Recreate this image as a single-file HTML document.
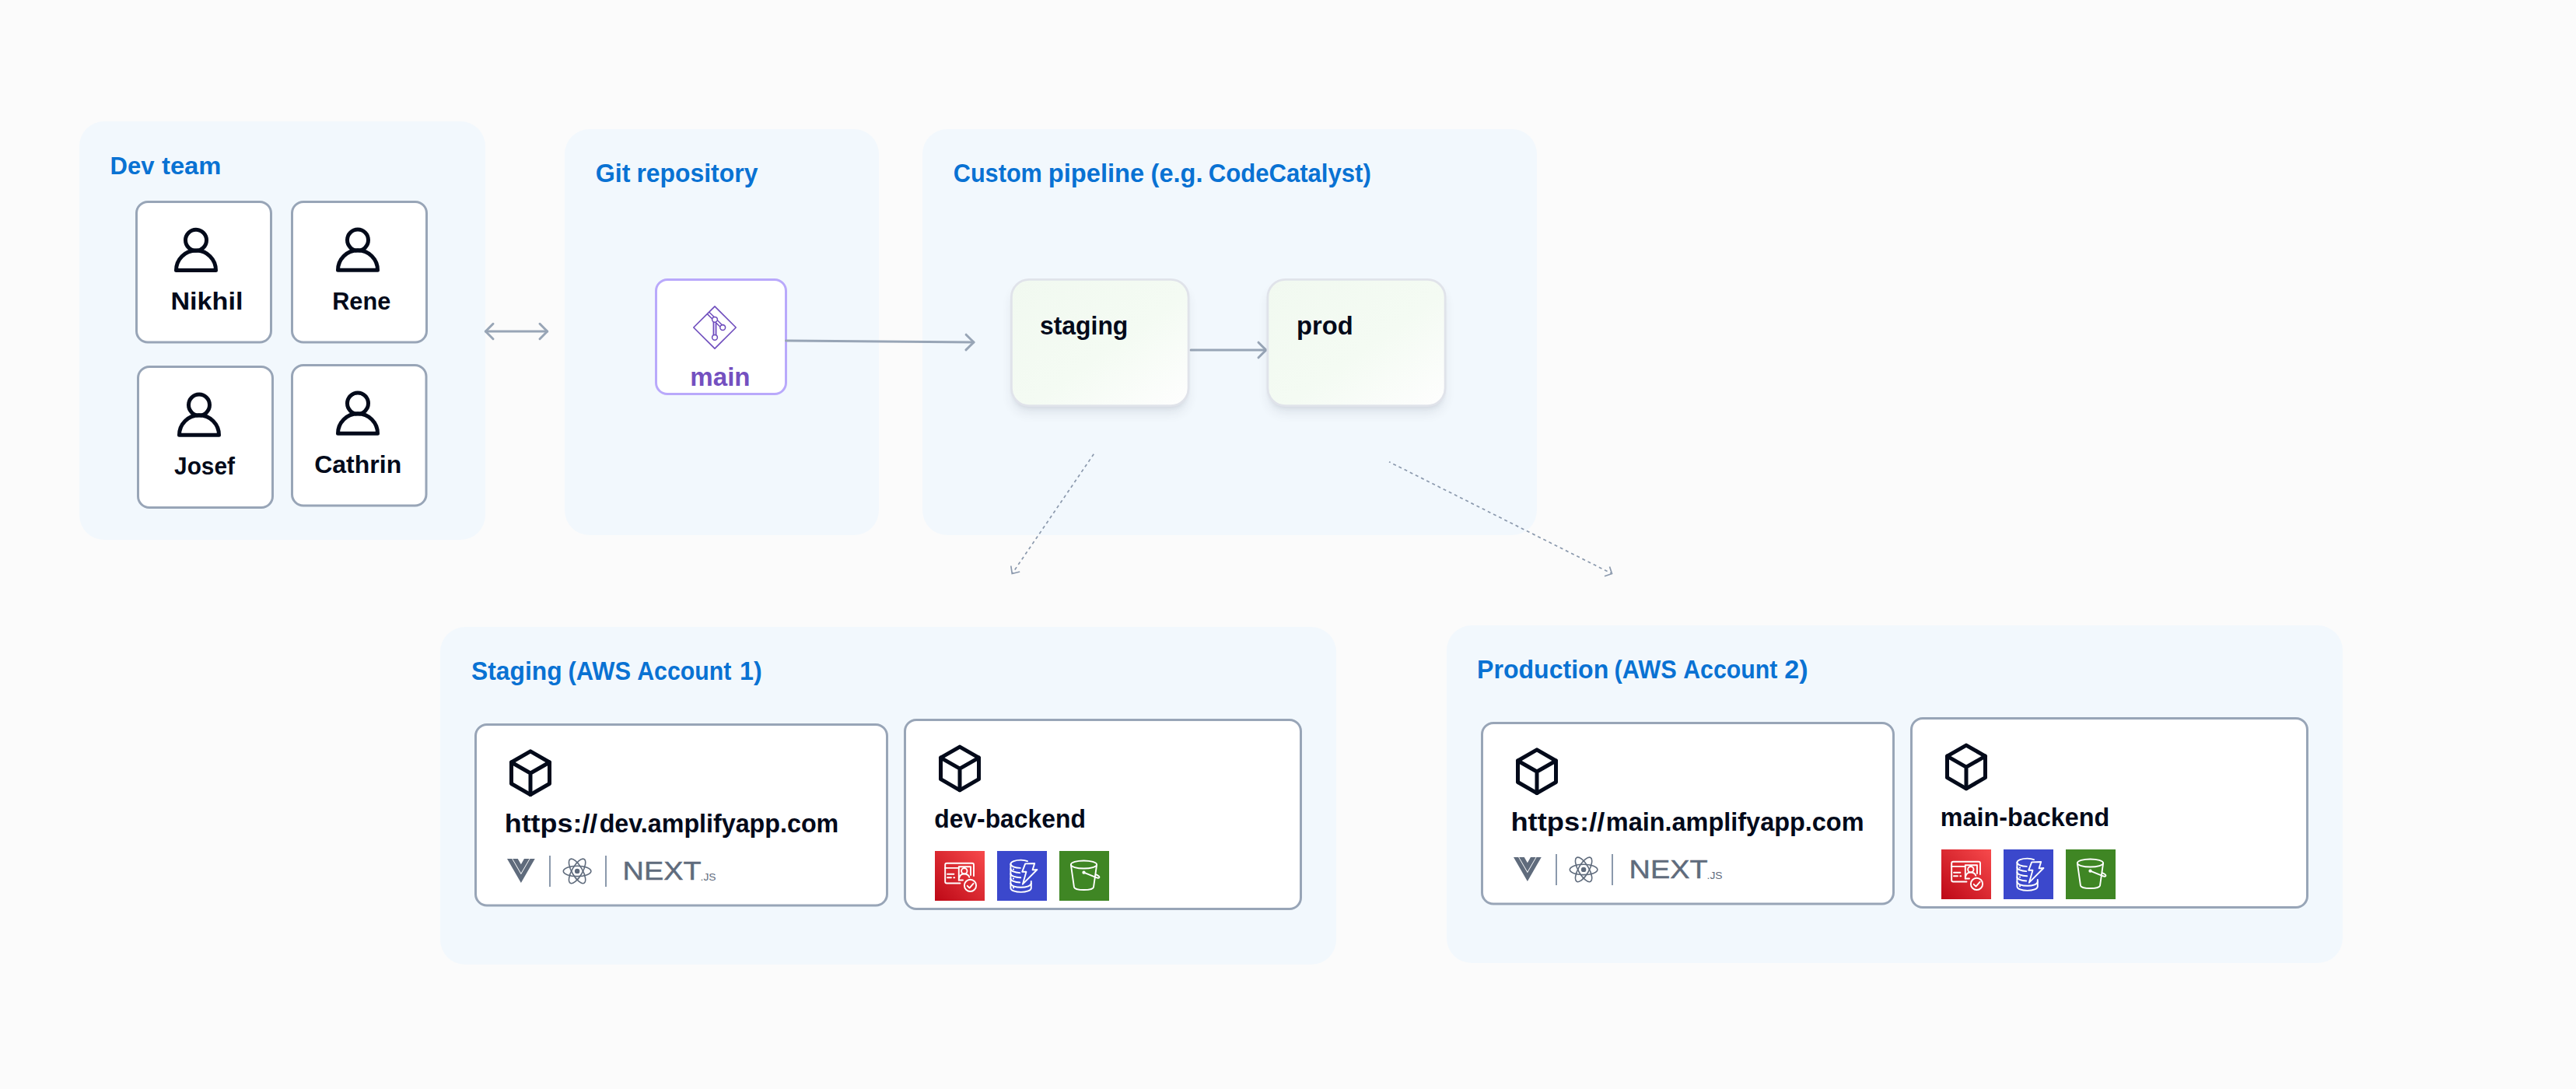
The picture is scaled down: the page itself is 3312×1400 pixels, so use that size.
<!DOCTYPE html>
<html lang="en"><head><meta charset="utf-8"><title>Amplify custom pipeline diagram</title>
<style>html,body{margin:0;padding:0;background:#fbfbfb}body{width:3312px;height:1400px;overflow:hidden}svg{display:block}text{font-family:"Liberation Sans",sans-serif;font-weight:bold}</style></head><body>
<svg width="3312" height="1400" viewBox="0 0 3312 1400">
<defs>
<linearGradient id="gg" x1="0" y1="0" x2="1" y2="1"><stop offset="0" stop-color="#f1f9f0"/><stop offset="0.55" stop-color="#f4fbf3"/><stop offset="1" stop-color="#fefefe"/></linearGradient>
<linearGradient id="rg" x1="0" y1="1" x2="1" y2="0"><stop offset="0" stop-color="#bd0816"/><stop offset="1" stop-color="#f74a4c"/></linearGradient>
<filter id="b1" x="-20%" y="-30%" width="140%" height="160%"><feGaussianBlur stdDeviation="7.5"/></filter><filter id="b2" x="-20%" y="-30%" width="140%" height="160%"><feGaussianBlur stdDeviation="3"/></filter>
<g id="person" fill="none" stroke="#030a1a" stroke-width="5" stroke-linejoin="round"><circle cx="28" cy="16" r="13.5"/><path d="M2.5 54.7A25.5 25.5 0 0 1 53.5 54.7Z"/></g>
<g id="cube" fill="none" stroke="#030a1a" stroke-width="5" stroke-linejoin="round" stroke-linecap="round"><path d="M27 2.9L51.5 17V44.5L27 58.6L2.5 44.5V17Z"/><path d="M2.5 17L27 31L51.5 17M27 31V58.6"/></g>
<g id="fe">
<g transform="translate(0 4) scale(0.13658)" fill="#5f6b7c"><path d="M161.096.001l-30.225 52.351L100.647.001H-.005l130.877 226.688L261.749.001z"/><path d="M161.096.001l-30.225 52.351L100.647.001H52.346l78.526 136.01L209.398.001z" stroke="#fff" stroke-width="13" paint-order="stroke"/></g>
<rect x="54" y="0" width="2" height="40" fill="#8b99ac"/><rect x="126" y="0" width="2" height="40" fill="#8b99ac"/>
<g transform="translate(90.1 19.9)" fill="none" stroke="#5f6b7c" stroke-width="1.6"><ellipse rx="17.8" ry="6.7"/><ellipse rx="17.8" ry="6.7" transform="rotate(60)"/><ellipse rx="17.8" ry="6.7" transform="rotate(120)"/><circle r="3.2" fill="#5f6b7c" stroke="none"/></g>
<text y="31.2" style="font-weight:normal" fill="#5f6b7c"><tspan x="148.6" font-size="33.6" stroke="#5f6b7c" stroke-width="0.45" textLength="101" lengthAdjust="spacingAndGlyphs">NEXT</tspan><tspan x="248.6" y="31.6" font-size="12.6" textLength="20" lengthAdjust="spacingAndGlyphs">.JS</tspan></text>
</g>
<g id="aws">
<rect width="64" height="64" fill="url(#rg)"/>
<g fill="none" stroke="#fff" stroke-width="1.9" stroke-linecap="round" stroke-linejoin="round">
<path d="M32.5 41.5H15.2a2 2 0 0 1-2-2V17.8a2 2 0 0 1 2-2H48a2 2 0 0 1 2 2V32"/><path d="M13.2 21.9H30.5"/><path d="M30.8 37.5V20.2H46V31"/><path d="M30.8 37.5H36"/>
<circle cx="37.8" cy="25.7" r="3.7"/><path d="M31.3 34.5c.8-3.6 3.4-5 6.5-5s5.6 1.4 6.5 4.2"/>
<path d="M16 29.8H24.4M16 34.2H21M24.3 34.2H25.2"/>
<circle cx="45.5" cy="44.4" r="7.6"/><path d="M41.7 44.8l2.8 2.8 5-5.8"/></g>
<g transform="translate(80 0)"><rect width="64" height="64" fill="#3b48cc"/><g fill="none" stroke="#fff" stroke-width="1.9" stroke-linecap="round" stroke-linejoin="round">
<path d="M39 13.2C36.7 12.1 33.8 11.6 30.6 11.6c-7.3 0-13.2 2.3-13.2 5.2V47.7c0 2.9 5.9 5.2 13.2 5.2s13.2-2.3 13.2-5.2V39"/>
<path d="M17.4 16.8c0 2.8 5.6 4.9 12.4 5.1M17.4 23c0 2.7 5.2 4.9 11.8 5.1M17.4 29.2c0 2.7 5.6 4.9 12.8 5.1M17.4 35.4c0 2.7 5.2 4.8 11.8 5.1M17.4 41.6c0 2.9 5.9 5.2 13.2 5.2s13.2-2.3 13.2-5.2"/>
<path d="M36.2 16.4L48.2 16 45.6 24.4 51.4 24 32.9 42.7 37.5 26.8H32.2Z" fill="#3b48cc"/>
<path d="M21 23.5v.100M21 35.5v.100M21 47.2v.100" stroke-width="2.2"/></g></g>
<g transform="translate(160 0)"><rect width="64" height="64" fill="#3f8624"/><g fill="none" stroke="#fff" stroke-width="1.9" stroke-linecap="round" stroke-linejoin="round">
<ellipse cx="31.5" cy="17.5" rx="16.6" ry="5"/><path d="M14.9 17.8L19 46.6c.3 2 5.8 3.4 12.5 3.4s12.2-1.4 12.5-3.4L48.1 17.8"/>
<circle cx="31.5" cy="27.7" r="1.2" fill="#fff"/><path d="M31.5 27.7L47.5 34.2c2.3.900 3.6.600 3.9-.200s-1-2.2-4.6-3.8"/></g></g>
</g>
</defs>
<rect x="102" y="156" width="522" height="538" rx="32" fill="#f2f8fd"/>
<rect x="726" y="166" width="404" height="522" rx="32" fill="#f2f8fd"/>
<rect x="1186" y="166" width="790" height="522" rx="32" fill="#f2f8fd"/>
<rect x="566" y="806" width="1152" height="434" rx="32" fill="#f2f8fd"/>
<rect x="1860" y="804" width="1152" height="434" rx="32" fill="#f2f8fd"/>
<rect x="175.5" y="259.5" width="173" height="180.5" rx="14.5" fill="#fff" stroke="#98a5b7" stroke-width="3"/>
<rect x="375.5" y="259.5" width="173" height="180.5" rx="14.5" fill="#fff" stroke="#98a5b7" stroke-width="3"/>
<rect x="177.5" y="471.5" width="173" height="181" rx="14.5" fill="#fff" stroke="#98a5b7" stroke-width="3"/>
<rect x="375.5" y="469.5" width="172.5" height="180.5" rx="14.5" fill="#fff" stroke="#98a5b7" stroke-width="3"/>
<use href="#person" x="224" y="292.8"/>
<use href="#person" x="432" y="292.6"/>
<use href="#person" x="228" y="504.6"/>
<use href="#person" x="432" y="502.6"/>
<rect x="843.5" y="359.5" width="167" height="147" rx="14.5" fill="#fff" stroke="#b9a9fb" stroke-width="3"/>
<g fill="none" stroke="#98a5b6" stroke-width="3" stroke-linecap="round" stroke-linejoin="round"><path d="M624.3 426H703.7"/><path d="M634 416.3L624.3 426L634 435.7M694 416.3L703.7 426L694 435.7"/>
<path d="M1010.5 438L1252 440"/><path d="M1242.1 430.2L1252 440L1241.9 449.8"/>
<path d="M1531 450H1627.8"/><path d="M1618 440.2L1627.8 450L1618 459.8"/></g>
<g fill="none" stroke-linecap="butt">
<path d="M910.6 402.4L919 410.8L929.2 421M919 410.8V433.8" stroke="#6f4dbd" stroke-width="4.9"/>
<path d="M910.6 402.4L919 410.8L929.2 421" stroke="#fff" stroke-width="2"/><path d="M919 410.8V433.8" stroke="#cdbfee" stroke-width="2"/>
<g stroke="#6f4dbd" stroke-width="1.55" fill="#fff"><circle cx="919" cy="410.8" r="3.4"/><circle cx="929.2" cy="421" r="3.4"/><circle cx="919" cy="433.8" r="3.4"/></g>
<path d="M919 393.8L946.2 421L919 448.2L891.8 421Z" stroke="#6f4dbd" stroke-width="1.65" stroke-linejoin="round"/></g>
<rect x="1302" y="371" width="224.5" height="159" rx="20" fill="#1b2440" opacity="0.1" filter="url(#b1)"/>
<rect x="1303" y="366" width="222.5" height="157" rx="19" fill="#1b2440" opacity="0.1" filter="url(#b2)"/>
<rect x="1300.4" y="359.4" width="227.7" height="162.2" rx="22.6" fill="url(#gg)" stroke="#e0e3ea" stroke-width="2.8"/>
<rect x="1631.5" y="371" width="225" height="159" rx="20" fill="#1b2440" opacity="0.1" filter="url(#b1)"/>
<rect x="1632.5" y="366" width="223" height="157" rx="19" fill="#1b2440" opacity="0.1" filter="url(#b2)"/>
<rect x="1629.9" y="359.4" width="228.2" height="162.2" rx="22.6" fill="url(#gg)" stroke="#e0e3ea" stroke-width="2.8"/>
<g fill="none" stroke="#8b99ad" stroke-width="1.7"><path d="M1406.25 583.75L1302 736.5" stroke-dasharray="4 4"/><path d="M1299.8 727.5L1301.25 737.5L1311.2 735"/>
<path d="M1786 593.75L2071.5 737" stroke-dasharray="4 4" stroke-dashoffset="2.1"/><path d="M2069.5 728.4L2072.5 737.5L2063 740.8"/></g>
<rect x="611.5" y="931.5" width="529" height="232.5" rx="14.5" fill="#fff" stroke="#98a5b7" stroke-width="3"/>
<rect x="1163.5" y="925.5" width="509" height="243" rx="14.5" fill="#fff" stroke="#98a5b7" stroke-width="3"/>
<use href="#cube" x="655" y="963"/>
<use href="#cube" x="1207" y="957.2"/>
<use href="#fe" x="652" y="1100"/>
<use href="#aws" x="1202" y="1094"/>
<rect x="1905.5" y="929.5" width="529" height="232.5" rx="14.5" fill="#fff" stroke="#98a5b7" stroke-width="3"/>
<rect x="2457.5" y="923.5" width="509" height="243" rx="14.5" fill="#fff" stroke="#98a5b7" stroke-width="3"/>
<use href="#cube" x="1949" y="961"/>
<use href="#cube" x="2501" y="955.2"/>
<use href="#fe" x="1946" y="1098"/>
<use href="#aws" x="2496" y="1092"/>
<text y="224" font-size="32" fill="#0972d3"><tspan x="141.62" textLength="56.92" lengthAdjust="spacingAndGlyphs">Dev</tspan> <tspan x="208.01" textLength="76.44" lengthAdjust="spacingAndGlyphs">team</tspan></text>
<text y="398" font-size="32" fill="#030a1a"><tspan x="219.46" textLength="92.95" lengthAdjust="spacingAndGlyphs">Nikhil</tspan></text>
<text y="398" font-size="32" fill="#030a1a"><tspan x="427.19" textLength="75.11" lengthAdjust="spacingAndGlyphs">Rene</tspan></text>
<text y="610" font-size="32" fill="#030a1a"><tspan x="224.05" textLength="77.9" lengthAdjust="spacingAndGlyphs">Josef</tspan></text>
<text y="608" font-size="32" fill="#030a1a"><tspan x="404.19" textLength="112.05" lengthAdjust="spacingAndGlyphs">Cathrin</tspan></text>
<text y="233.75" font-size="32.5" fill="#0972d3"><tspan x="765.68" textLength="44.7" lengthAdjust="spacingAndGlyphs">Git</tspan> <tspan x="818.39" textLength="156.02" lengthAdjust="spacingAndGlyphs">repository</tspan></text>
<text y="495.5" font-size="32.5" fill="#7450c0"><tspan x="887.32" textLength="77.24" lengthAdjust="spacingAndGlyphs">main</tspan></text>
<text y="233.75" font-size="32.5" fill="#0972d3"><tspan x="1225.74" textLength="114.16" lengthAdjust="spacingAndGlyphs">Custom</tspan> <tspan x="1347.85" textLength="123.27" lengthAdjust="spacingAndGlyphs">pipeline</tspan> <tspan x="1479.62" textLength="66.86" lengthAdjust="spacingAndGlyphs">(e.g.</tspan> <tspan x="1553.73" textLength="209.07" lengthAdjust="spacingAndGlyphs">CodeCatalyst)</tspan></text>
<text y="430" font-size="32.5" fill="#030a1a"><tspan x="1336.88" textLength="113.5" lengthAdjust="spacingAndGlyphs">staging</tspan></text>
<text y="430" font-size="32.5" fill="#030a1a"><tspan x="1667.09" textLength="72.55" lengthAdjust="spacingAndGlyphs">prod</tspan></text>
<text y="873.75" font-size="32.5" fill="#0972d3"><tspan x="606.08" textLength="116.54" lengthAdjust="spacingAndGlyphs">Staging</tspan> <tspan x="730.45" textLength="80.75" lengthAdjust="spacingAndGlyphs">(AWS</tspan> <tspan x="819.24" textLength="121.12" lengthAdjust="spacingAndGlyphs">Account</tspan> <tspan x="950.97" textLength="28.65" lengthAdjust="spacingAndGlyphs">1)</tspan></text>
<text y="1070" font-size="32.5" fill="#030a1a"><tspan x="648.74" textLength="119.6" lengthAdjust="spacingAndGlyphs">https://</tspan><tspan x="770.68" textLength="307.59" lengthAdjust="spacingAndGlyphs">dev.amplifyapp.com</tspan></text>
<text y="1063.75" font-size="32.5" fill="#030a1a"><tspan x="1201.19" textLength="194.67" lengthAdjust="spacingAndGlyphs">dev-backend</tspan></text>
<text y="871.75" font-size="32.5" fill="#0972d3"><tspan x="1899.1" textLength="169.11" lengthAdjust="spacingAndGlyphs">Production</tspan> <tspan x="2075.46" textLength="80.23" lengthAdjust="spacingAndGlyphs">(AWS</tspan> <tspan x="2164.24" textLength="121.12" lengthAdjust="spacingAndGlyphs">Account</tspan> <tspan x="2294.3" textLength="30.41" lengthAdjust="spacingAndGlyphs">2)</tspan></text>
<text y="1068" font-size="32.5" fill="#030a1a"><tspan x="1942.46" textLength="120.89" lengthAdjust="spacingAndGlyphs">https://</tspan><tspan x="2064.86" textLength="331.67" lengthAdjust="spacingAndGlyphs">main.amplifyapp.com</tspan></text>
<text y="1061.75" font-size="32.5" fill="#030a1a"><tspan x="2494.87" textLength="217.27" lengthAdjust="spacingAndGlyphs">main-backend</tspan></text>
</svg></body></html>
